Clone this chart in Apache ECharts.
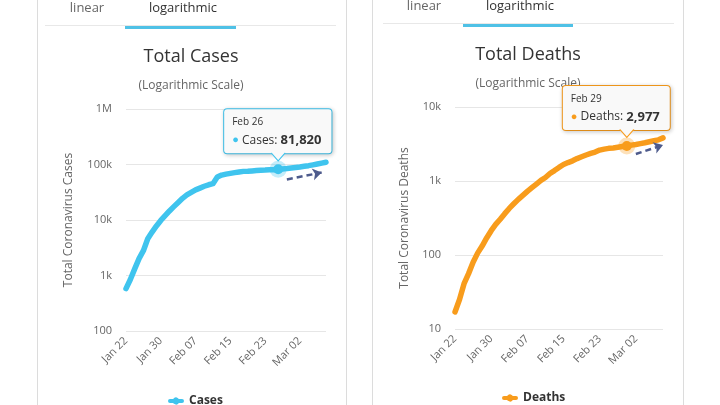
<!DOCTYPE html>
<html>
<head>
<meta charset="utf-8">
<script src="https://cdn.jsdelivr.net/npm/echarts@6/dist/echarts.min.js"></script>
<style>
html,body{margin:0;padding:0;background:#ffffff;}
#c{width:720px;height:405px;}
</style>
</head>
<body>
<div id="c"></div>
<script>
// ---------- data ----------
const categories = [
  'Jan 22','Jan 23','Jan 24','Jan 25','Jan 26','Jan 27','Jan 28','Jan 29','Jan 30','Jan 31',
  'Feb 01','Feb 02','Feb 03','Feb 04','Feb 05','Feb 06','Feb 07','Feb 08','Feb 09','Feb 10',
  'Feb 11','Feb 12','Feb 13','Feb 14','Feb 15','Feb 16','Feb 17','Feb 18','Feb 19','Feb 20',
  'Feb 21','Feb 22','Feb 23','Feb 24','Feb 25','Feb 26','Feb 27','Feb 28','Feb 29',
  'Mar 01','Mar 02','Mar 03','Mar 04','Mar 05','Mar 06','Mar 07','Mar 08'
];
const cases = [
  580, 845, 1317, 2015, 2800, 4581, 6058, 7813, 9823, 11948,
  14551, 17389, 20628, 24553, 28276, 31439, 34876, 37552, 40553, 43099,
  45134, 59287, 64438, 67100, 69197, 71329, 73332, 75184, 75700, 76677,
  77673, 78651, 79205, 80087, 80828, 81820, 83112, 84615, 86604,
  88585, 90443, 93016, 95314, 98425, 102050, 106099, 109991
];
const deaths = [
  17, 25, 41, 56, 80, 106, 132, 170, 213, 259,
  304, 362, 426, 492, 565, 638, 724, 813, 910, 1018,
  1115, 1261, 1383, 1526, 1669, 1775, 1873, 2009, 2126, 2247,
  2360, 2460, 2618, 2699, 2763, 2800, 2858, 2923, 2977,
  3050, 3117, 3202, 3285, 3387, 3494, 3599, 3827
];
// tick labels keyed by power of ten
const casesTickLabels = {2:'100', 3:'1k', 4:'10k', 5:'100k', 6:'1M'};
const deathsTickLabels = {1:'10', 2:'100', 3:'1k', 4:'10k'};
// highlighted (tooltip) points
const casesTipIndex = 35;
const deathsTipIndex = 38;
// dashed trend arrows: [categoryIndex, value]
const casesTrend = [[37, 53700], [45, 71800]];
const deathsTrend = [[40, 2320], [46, 3060]];

// ---------- styles ----------
const FONT = "'Open Sans', sans-serif";
const C_CASES = '#3fc4ee';
const C_DEATHS = '#f89c1c';
const ARROW = '#4e5b8c';
const TAB_LINE = '#4fc1e6';
const LEGEND_ICON = 'path://M2,2L5.13,2A3.5,3.5,0,0,1,10.87,2L14,2A2,2,0,0,1,14,6L10.87,6A3.5,3.5,0,0,1,5.13,6L2,6A2,2,0,0,1,2,2Z';

function fmt(n){ return n.toLocaleString('en-US'); }

function yAxisFor(grid, min, max, labels, name, nameGap){
  return {
    type:'log', logBase:10, gridIndex:grid, min:min, max:max,
    axisLine:{show:false}, axisTick:{show:false},
    splitLine:{show:true, lineStyle:{color:'#e6e6e6', width:1}},
    axisLabel:{fontSize:11, color:'#666', margin:14, fontFamily:FONT,
      formatter:function(v){ const k = Math.round(Math.log10(v)); return labels[k] || ''; }},
    name:name, nameLocation:'middle', nameGap:nameGap,
    nameTextStyle:{fontSize:12, color:'#666', fontFamily:FONT}
  };
}
function xAxisFor(grid){
  return {
    type:'category', gridIndex:grid, data:categories, boundaryGap:false,
    axisLine:{show:false}, axisTick:{show:false},
    axisLabel:{interval:7, rotate:45, fontSize:11, color:'#666', margin:8, fontFamily:FONT}
  };
}
function tipLabel(name, color, idx, values, offX){
  return {
    show:true, position:'top', distance:11, align:'left', offset:[offX, 0],
    formatter:'{d|' + categories[idx] + '}\n{m|\u25CF} {n|' + name + ':} {v|' + fmt(values[idx]) + '}',
    backgroundColor:'#f9f9f9', borderColor:color, borderWidth:1, borderRadius:3,
    padding:[5,10,3,8], fontSize:12, fontFamily:FONT, color:'#333',
    shadowColor:'rgba(0,0,0,0.18)', shadowBlur:4, shadowOffsetX:1, shadowOffsetY:1,
    rich:{
      d:{fontSize:10, color:'#333', lineHeight:16, fontFamily:FONT},
      m:{fontSize:11, color:color, lineHeight:20, fontFamily:FONT},
      n:{fontSize:12, color:'#333', lineHeight:20, fontFamily:FONT},
      v:{fontSize:13, fontWeight:'bold', color:'#333', lineHeight:20, fontFamily:FONT}
    }
  };
}
function mainSeries(name, color, values, axisIdx, tipIdx, trend, offX, halo){
  return {
    name:name, type:'line', xAxisIndex:axisIdx, yAxisIndex:axisIdx,
    data:values, showSymbol:false, symbol:'circle', smooth:false,
    lineStyle:{width:5.5, color:color, cap:'round', join:'round'},
    itemStyle:{color:color},
    emphasis:{disabled:true},
    markLine:{
      silent:true, symbol:['none','arrow'], symbolSize:[9,9],
      label:{show:false},
      lineStyle:{type:[6,4], width:2.5, color:ARROW},
      data:[[{coord:trend[0]},{coord:trend[1]}]]
    },
    markPoint:{
      z:10, silent:true,
      data:[
        {coord:[tipIdx, values[tipIdx]], symbol:'circle', symbolSize:17,
          itemStyle:{color:halo}, label:{show:false}},
        {coord:[tipIdx, values[tipIdx]], symbol:'circle', symbolSize:10,
          itemStyle:{color:color}, label:tipLabel(name, color, tipIdx, values, offX)}
      ]
    }
  };
}
function arrowSeries(color, values, axisIdx, tipIdx){
  return {
    name:'_tip' + axisIdx, type:'line', xAxisIndex:axisIdx, yAxisIndex:axisIdx,
    data:[], showSymbol:false,
    markPoint:{
      z:11, silent:true,
      data:[{coord:[tipIdx, values[tipIdx]], symbol:'path://M0,0L7,8L14,0',
        symbolSize:[14,8], symbolOffset:[0,-12.5],
        itemStyle:{color:'#f9f9f9', borderColor:color, borderWidth:1}, label:{show:false}}]
    }
  };
}

const graphics = [
  // panel borders
  {type:'line', shape:{x1:37.5,y1:0,x2:37.5,y2:405}, style:{stroke:'#dcdcdc', lineWidth:1}},
  {type:'line', shape:{x1:346.5,y1:0,x2:346.5,y2:405}, style:{stroke:'#dcdcdc', lineWidth:1}},
  {type:'line', shape:{x1:372.5,y1:0,x2:372.5,y2:405}, style:{stroke:'#dcdcdc', lineWidth:1}},
  {type:'line', shape:{x1:683.5,y1:0,x2:683.5,y2:405}, style:{stroke:'#dcdcdc', lineWidth:1}},
  // tab separators
  {type:'line', shape:{x1:45,y1:25.5,x2:336,y2:25.5}, style:{stroke:'#e8e8e8', lineWidth:1}},
  {type:'line', shape:{x1:383,y1:23.5,x2:674,y2:23.5}, style:{stroke:'#e8e8e8', lineWidth:1}},
  {type:'rect', shape:{x:125,y:26,width:111,height:3}, style:{fill:TAB_LINE}},
  {type:'rect', shape:{x:463,y:24,width:110,height:3}, style:{fill:TAB_LINE}},
  // tabs
  {type:'text', style:{text:'linear', x:87, y:8, align:'center', verticalAlign:'middle', fontSize:13, fontFamily:FONT, fill:'#666'}},
  {type:'text', style:{text:'logarithmic', x:183, y:8, align:'center', verticalAlign:'middle', fontSize:13, fontFamily:FONT, fill:'#333'}},
  {type:'text', style:{text:'linear', x:424, y:6, align:'center', verticalAlign:'middle', fontSize:13, fontFamily:FONT, fill:'#666'}},
  {type:'text', style:{text:'logarithmic', x:520, y:6, align:'center', verticalAlign:'middle', fontSize:13, fontFamily:FONT, fill:'#333'}},
  // titles
  {type:'text', style:{text:'Total Cases', x:191, y:57, align:'center', verticalAlign:'middle', fontSize:18, fontFamily:FONT, fill:'#333'}},
  {type:'text', style:{text:'(Logarithmic Scale)', x:191, y:86, align:'center', verticalAlign:'middle', fontSize:12, fontFamily:FONT, fill:'#666'}},
  {type:'text', style:{text:'Total Deaths', x:528, y:55, align:'center', verticalAlign:'middle', fontSize:18, fontFamily:FONT, fill:'#333'}},
  {type:'text', style:{text:'(Logarithmic Scale)', x:528, y:84, align:'center', verticalAlign:'middle', fontSize:12, fontFamily:FONT, fill:'#666'}}
];

const chart = echarts.init(document.getElementById('c'), null, {renderer:'canvas'});
chart.setOption({
  animation:false,
  backgroundColor:'#ffffff',
  textStyle:{fontFamily:FONT},
  graphic:graphics,
  grid:[
    {left:126, right:394, top:109, height:222},
    {left:455, right:57, top:107, height:222}
  ],
  xAxis:[xAxisFor(0), xAxisFor(1)],
  yAxis:[
    yAxisFor(0, 100, 1000000, casesTickLabels, 'Total Coronavirus Cases', 51),
    yAxisFor(1, 10, 10000, deathsTickLabels, 'Total Coronavirus Deaths', 44)
  ],
  legend:[
    {data:['Cases'], left:163, top:390, selectedMode:false, icon:LEGEND_ICON, itemWidth:16, itemHeight:7, itemGap:5,
      textStyle:{fontSize:12, fontWeight:'bold', color:'#333', fontFamily:FONT}},
    {data:['Deaths'], left:497, top:387, selectedMode:false, icon:LEGEND_ICON, itemWidth:16, itemHeight:7, itemGap:5,
      textStyle:{fontSize:12, fontWeight:'bold', color:'#333', fontFamily:FONT}}
  ],
  series:[
    mainSeries('Cases', C_CASES, cases, 0, casesTipIndex, casesTrend, -54, 'rgba(63,196,238,0.3)'),
    mainSeries('Deaths', C_DEATHS, deaths, 1, deathsTipIndex, deathsTrend, -64, 'rgba(248,156,28,0.3)'),
    arrowSeries(C_CASES, cases, 0, casesTipIndex),
    arrowSeries(C_DEATHS, deaths, 1, deathsTipIndex)
  ]
});
</script>
</body>
</html>
